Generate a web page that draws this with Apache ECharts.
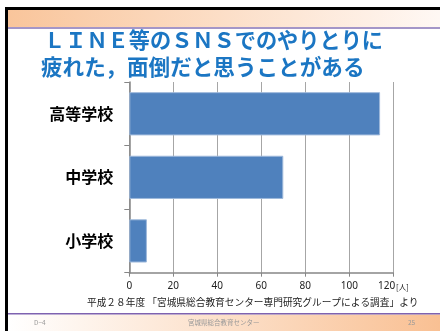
<!DOCTYPE html>
<html>
<head>
<meta charset="utf-8">
<script src="https://cdn.jsdelivr.net/npm/echarts@6/dist/echarts.min.js"></script>
<style>html,body{margin:0;padding:0;background:#fff}#c{width:440px;height:331px}</style>
</head>
<body>
<div id="c"></div>
<script>
const categories = ['高等学校', '中学校', '小学校'];
const values = [114, 70, 8];
const tickValues = [0, 20, 40, 60, 80, 100, 120];
const unitLabel = '[人]';
const titleLines = ['ＬＩＮＥ等のＳＮＳでのやりとりに', '疲れた，面倒だと思うことがある'];
const sourceText = '平成２８年度 「宮城県総合教育センター専門研究グループによる調査」より';
const footerLeft = 'D−4';
const footerCenter = '宮城県総合教育センター';
const footerRight = '25';

const CJK = '"Noto Sans CJK JP", "Noto Sans", sans-serif';
const chart = echarts.init(document.getElementById('c'), null, {renderer: 'canvas'});
chart.setOption({
  animation: false,
  backgroundColor: '#ffffff',
  grid: {left: 129.3, right: 46.7, top: 82, bottom: 58.3, containLabel: false},
  xAxis: {
    type: 'value', min: 0, max: 120, interval: 20,
    axisLine: {show: true, lineStyle: {color: '#868686', width: 1.5}},
    axisTick: {show: true, length: 4, lineStyle: {color: '#868686', width: 1}},
    splitLine: {show: true, lineStyle: {color: '#A6A6A6', width: 1}},
    axisLabel: {
      margin: 8, color: '#222', fontSize: 10, fontFamily: '"Noto Sans", sans-serif',
      formatter: v => (tickValues.indexOf(v) >= 0 ? (v === 120 ? v + '{u|' + unitLabel + '}' : String(v)) : ''),
      rich: {u: {fontSize: 7.5, fontFamily: CJK, color: '#222', padding: [2, 0, 0, 1]}}
    }
  },
  yAxis: {
    type: 'category', data: categories, inverse: true,
    axisLine: {show: true, lineStyle: {color: '#868686', width: 1.5}},
    axisTick: {show: true, length: 5, lineStyle: {color: '#868686', width: 1}},
    splitLine: {show: false},
    axisLabel: {margin: 16, color: '#000', fontSize: 16, fontWeight: 'bold', fontFamily: CJK}
  },
  series: [{
    type: 'bar', data: values, barCategoryGap: '32%',
    itemStyle: {color: '#4F81BD', borderColor: '#9DB8DB', borderWidth: 1}
  }],
  graphic: [
    {type: 'rect', shape: {x: 8, y: 10, width: 432, height: 17}, silent: true, z: 0,
      style: {fill: new echarts.graphic.LinearGradient(0, 0, 1, 0, [{offset: 0, color: '#F9C59B'}, {offset: 1, color: '#FFF8F4'}])}},
    {type: 'rect', shape: {x: 8, y: 27, width: 432, height: 2}, silent: true, style: {fill: '#A496C8'}},
    {type: 'rect', shape: {x: 8, y: 314.5, width: 432, height: 17}, silent: true,
      style: {fill: new echarts.graphic.LinearGradient(0, 0, 1, 0, [{offset: 0, color: '#FFFFFF'}, {offset: 1, color: '#F9C093'}])}},
    {type: 'rect', shape: {x: 8, y: 313, width: 432, height: 1.5}, silent: true, style: {fill: '#7E62B0'}},
    {type: 'rect', shape: {x: 5, y: 7, width: 435, height: 3}, silent: true, style: {fill: '#000'}},
    {type: 'rect', shape: {x: 5, y: 7, width: 3, height: 324}, silent: true, style: {fill: '#000'}},
    {type: 'text', left: 44, top: 29, silent: true,
      style: {text: titleLines[0], font: 'bold 21.2px ' + CJK, fill: '#1B76C3'}},
    {type: 'text', left: 41, top: 56, silent: true,
      style: {text: titleLines[1], font: 'bold 21.6px ' + CJK, fill: '#1B76C3'}},
    {type: 'text', left: 87, top: 297.5, silent: true,
      style: {text: sourceText, font: '9.7px ' + CJK, fill: '#222'}},
    {type: 'text', left: 34, top: 319.5, silent: true,
      style: {text: footerLeft, font: '6.5px ' + CJK, fill: '#999'}},
    {type: 'text', left: 188, top: 319.5, silent: true,
      style: {text: footerCenter, font: '6.5px ' + CJK, fill: '#999'}},
    {type: 'text', left: 408, top: 319.5, silent: true,
      style: {text: footerRight, font: '6.5px ' + CJK, fill: '#999'}}
  ]
});
</script>
</body>
</html>
